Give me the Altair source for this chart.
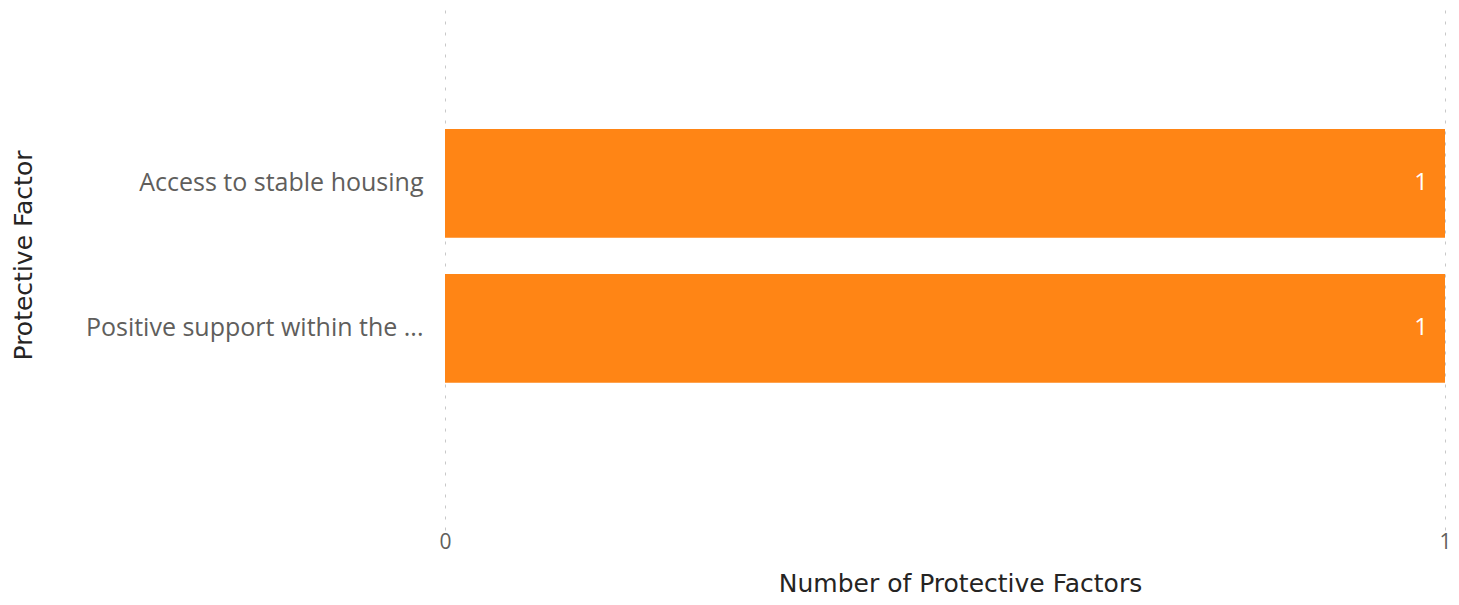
import altair as alt
import pandas as pd

factors = ["Access to stable housing", "Positive support within the ..."]
counts = [1, 1]
x_ticks = [0, 1]

df = pd.DataFrame({"factor": factors, "count": counts})

BAR = "#FF8515"
TITLE_FONT = "DejaVu Sans"
LABEL_FONT = "Open Sans"

y_enc = alt.Y(
    "factor:N",
    sort=factors,
    scale=alt.Scale(domain=factors, paddingInner=0.25, paddingOuter=0.925, align=0.451),
    axis=alt.Axis(
        title="Protective Factor",
        titleFont=TITLE_FONT,
        titleFontSize=25,
        titleFontWeight="normal",
        titleColor="#252423",
        titleAngle=-90,
        titleX=-422,
        titleY=247,
        titleAlign="center",
        titleBaseline="middle",
        labelFont=LABEL_FONT,
        labelFontSize=25,
        labelColor="#605E5C",
        labelPadding=22,
        labelLimit=420,
        ticks=False,
        domain=False,
        grid=False,
    ),
)

x_enc = alt.X(
    "count:Q",
    scale=alt.Scale(domain=[0, 1], nice=False),
    axis=alt.Axis(
        values=x_ticks,
        format="d",
        title="Number of Protective Factors",
        titleFont=TITLE_FONT,
        titleFontSize=25,
        titleFontWeight="normal",
        titleColor="#252423",
        titleX=515,
        titleY=61,
        titleBaseline="alphabetic",
        labelFont=LABEL_FONT,
        labelFontSize=21,
        labelColor="#605E5C",
        labelPadding=1,
        labelFlush=False,
        ticks=False,
        domain=False,
        grid=True,
        gridColor="#C8C8C8",
        gridDash=[3, 8],
        gridWidth=1,
    ),
)

bars = alt.Chart(df).mark_bar(color=BAR).encode(x=x_enc, y=y_enc)

labels = alt.Chart(df).mark_text(
    align="right", baseline="middle", dx=-17, color="white",
    font=LABEL_FONT, fontSize=24
).encode(
    x=alt.X("count:Q"),
    y=alt.Y("factor:N", sort=factors),
    text=alt.Text("count:Q", format="d"),
)

chart = (bars + labels).properties(
    width=1000,
    height=522,
    autosize=alt.AutoSizeParams(type="none"),
    padding={"left": 437, "right": 6, "top": 0, "bottom": 67},
).configure(background="white").configure_view(stroke=None, strokeWidth=0)

chart.save("out.html", embed_options={"renderer": "svg", "actions": False})
